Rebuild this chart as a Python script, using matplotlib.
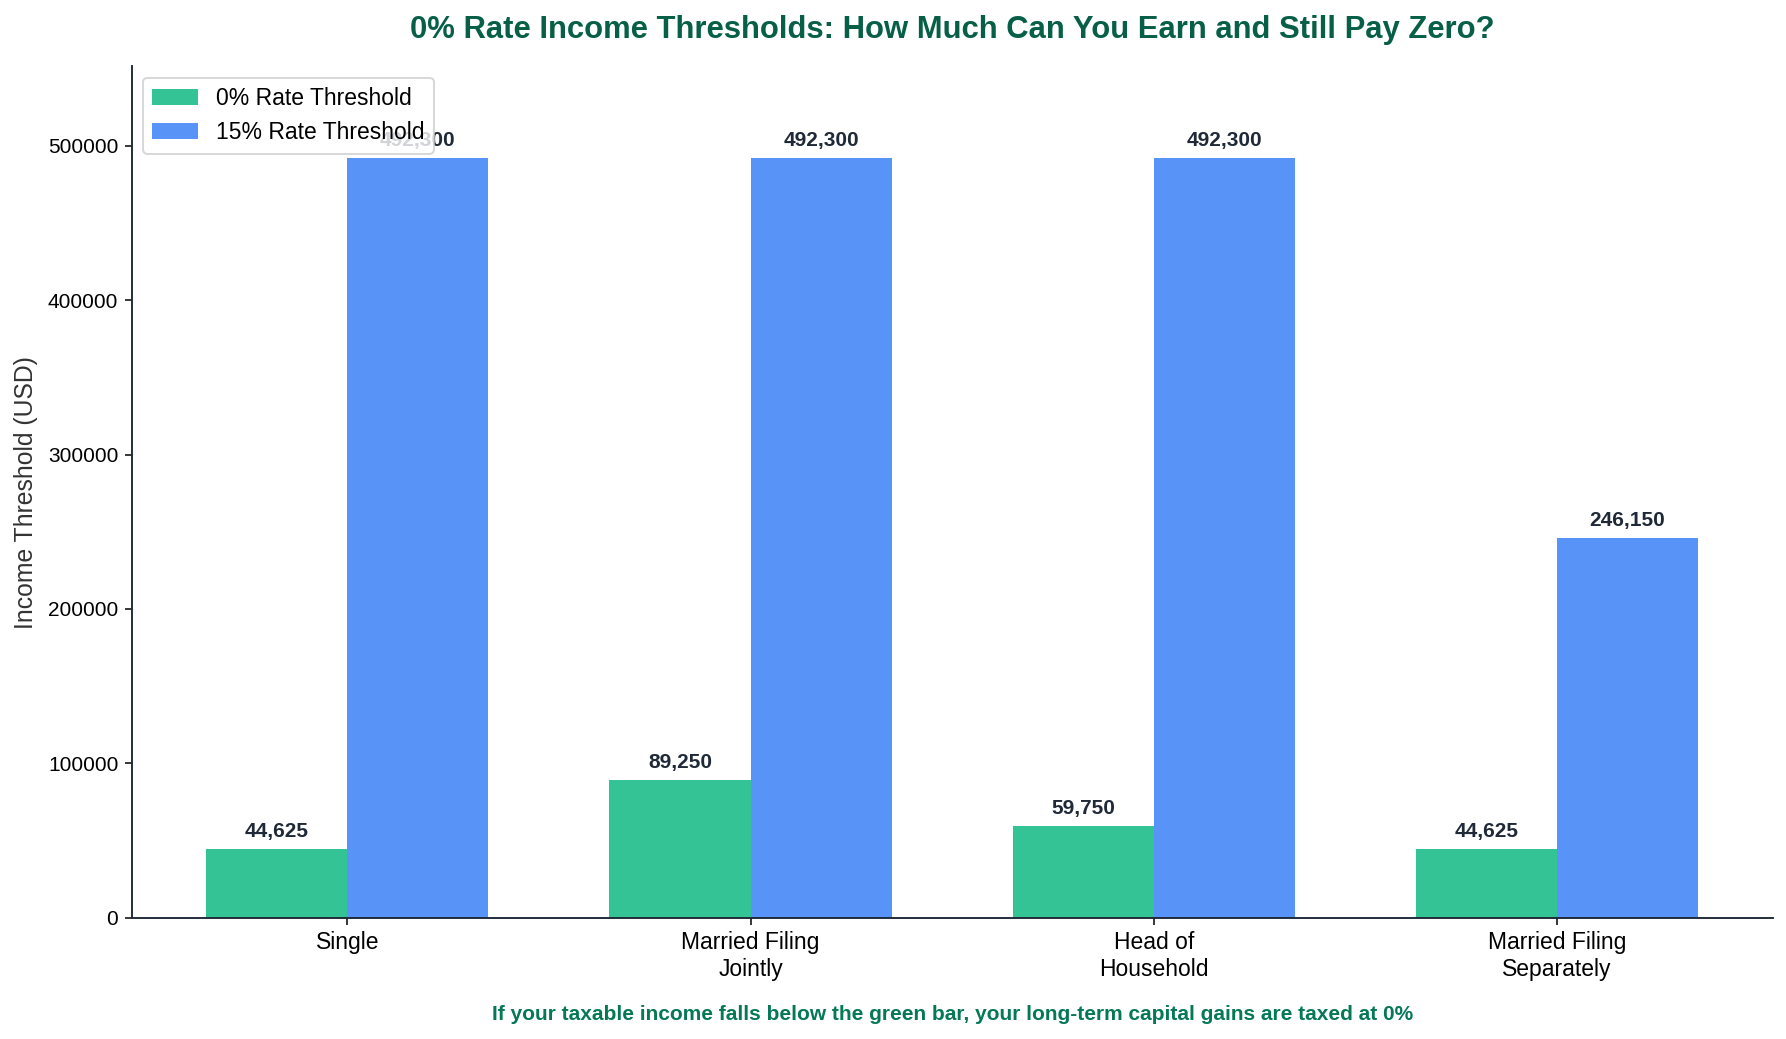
import matplotlib
matplotlib.use("Agg")
import matplotlib.pyplot as plt
import numpy as np

plt.rcParams['font.family'] = ['Liberation Sans', 'DejaVu Sans']

categories = ["Single", "Married Filing\nJointly", "Head of\nHousehold", "Married Filing\nSeparately"]
zero_rate = [44625, 89250, 59750, 44625]
fifteen_rate = [492300, 492300, 492300, 246150]
series_names = ["0% Rate Threshold", "15% Rate Threshold"]

fig = plt.figure(figsize=(1786 / 137, 1039 / 137), dpi=137)
ax = fig.add_axes([0.0737, 0.1167, 0.9926 - 0.0737, 0.936 - 0.1167])

x = np.arange(len(categories))
w = 0.35
b1 = ax.bar(x - w / 2, zero_rate, w, color="#10B981", alpha=0.85, label=series_names[0])
b2 = ax.bar(x + w / 2, fifteen_rate, w, color="#3B82F6", alpha=0.85, label=series_names[1])

for bars in (b1, b2):
    for r in bars:
        h = r.get_height()
        ax.annotate(f"{int(h):,}", xy=(r.get_x() + r.get_width() / 2, h),
                    xytext=(0, 4), textcoords="offset points",
                    ha="center", va="bottom", fontsize=11, fontweight="bold",
                    color="#1F2937")

ax.set_xticks(x)
ax.set_xticklabels(categories, fontsize=12)
ax.tick_params(axis="y", labelsize=11)
ax.set_ylim(0, max(fifteen_rate) * 1.12)
ax.set_ylabel("Income Threshold (USD)", fontsize=13, color="#333333", labelpad=5)
ax.set_title("0% Rate Income Thresholds: How Much Can You Earn and Still Pay Zero?",
             fontsize=16.3, fontweight="bold", color="#065F46", pad=15)

for s in ("top", "right"):
    ax.spines[s].set_visible(False)
for s in ("left", "bottom"):
    ax.spines[s].set_linewidth(1.0)
    ax.spines[s].set_color("#1F2937")

ax.legend(loc="upper left", fontsize=12)

ax.text(0.5, -0.114, "If your taxable income falls below the green bar, your long-term capital gains are taxed at 0%",
        transform=ax.transAxes, ha="center", va="center", fontsize=11,
        fontweight="bold", color="#047857")

fig.savefig("out.png", dpi=137)
